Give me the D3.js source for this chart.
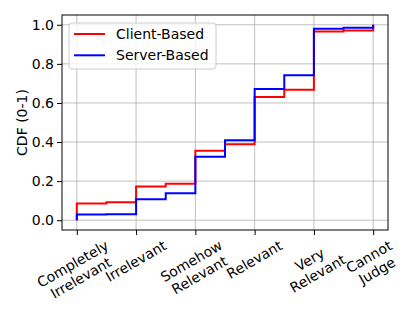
<!DOCTYPE html>
<html>
<head>
<meta charset="utf-8">
<script src="https://cdn.jsdelivr.net/npm/d3@7"></script>
<style>
  body { margin: 0; background: #fff; }
  text { font-family: "DejaVu Sans", sans-serif; }
</style>
</head>
<body>
<div id="chart"></div>
<script>
// category labels sit at 0..5, the CDF is sampled every half step
const categories = ["Completely\nIrrelevant", "Irrelevant", "Somehow\nRelevant", "Relevant", "Very\nRelevant", "Cannot\nJudge"];
const steps = [0, 0, 0.5, 1, 1.5, 2, 2.5, 3, 3.5, 4, 4.5, 5];
const clientBased = [0, 0.085, 0.092, 0.172, 0.187, 0.356, 0.389, 0.631, 0.667, 0.966, 0.971, 1.0];
const serverBased = [0, 0.029, 0.031, 0.107, 0.138, 0.325, 0.409, 0.672, 0.742, 0.980, 0.985, 1.0];
const yTicks = [0, 0.2, 0.4, 0.6, 0.8, 1.0];

const width = 415;
const height = 311;
const marginTop = 15;
const marginRight = 27;
const marginBottom = 81;
const marginLeft = 62;
const fontSize = 14;

const series = [
  { name: "Client-Based", color: "#ff0000", values: clientBased },
  { name: "Server-Based", color: "#0000ff", values: serverBased }
];

const x = d3.scaleLinear()
  .domain([-0.25, 5.25])
  .range([marginLeft, width - marginRight]);

const y = d3.scaleLinear()
  .domain([-0.05, 1.05])
  .range([height - marginBottom, marginTop]);

const svg = d3.select("#chart")
  .append("svg")
  .attr("width", width)
  .attr("height", height);

// grid
svg.append("g")
  .selectAll("line")
  .data(categories.map((_, i) => i))
  .join("line")
  .attr("x1", d => x(d)).attr("x2", d => x(d))
  .attr("y1", marginTop).attr("y2", height - marginBottom)
  .attr("stroke", "#b0b0b0").attr("stroke-width", 0.8);

svg.append("g")
  .selectAll("line")
  .data(yTicks)
  .join("line")
  .attr("x1", marginLeft).attr("x2", width - marginRight)
  .attr("y1", d => y(d)).attr("y2", d => y(d))
  .attr("stroke", "#b0b0b0").attr("stroke-width", 0.8);

// step lines
const line = d3.line()
  .x((d, i) => x(steps[i]))
  .y(d => y(d))
  .curve(d3.curveStepAfter);

svg.append("g")
  .selectAll("path")
  .data(series)
  .join("path")
  .attr("d", d => line(d.values))
  .attr("fill", "none")
  .attr("stroke", d => d.color)
  .attr("stroke-width", 2);

// frame
svg.append("rect")
  .attr("x", marginLeft).attr("y", marginTop)
  .attr("width", width - marginLeft - marginRight)
  .attr("height", height - marginTop - marginBottom)
  .attr("fill", "none").attr("stroke", "#000").attr("stroke-width", 1);

// y axis
const gy = svg.append("g")
  .attr("transform", `translate(${marginLeft},0)`)
  .call(d3.axisLeft(y).tickValues(yTicks).tickFormat(d3.format(".1f")).tickSize(5).tickPadding(3));
gy.select(".domain").remove();
gy.selectAll("text").attr("font-size", fontSize).attr("fill", "#000").attr("font-family", "DejaVu Sans");

// x axis ticks (labels drawn separately, rotated)
const gx = svg.append("g")
  .attr("transform", `translate(0,${height - marginBottom})`)
  .call(d3.axisBottom(x).tickValues(categories.map((_, i) => i)).tickSize(5).tickFormat(""));
gx.select(".domain").remove();

const labelTop = height - marginBottom + 7;
categories.forEach((c, i) => {
  const outer = svg.append("g");
  const t = outer.append("g")
    .attr("transform", "rotate(-30)")
    .append("text")
    .attr("text-anchor", "middle")
    .attr("font-size", fontSize)
    .attr("fill", "#000");
  c.split("\n").forEach((s, k) => {
    t.append("tspan").attr("x", 0).attr("dy", k === 0 ? 0 : "1.15em").text(s);
  });
  const bb = outer.node().getBBox();
  outer.attr("transform", `translate(${x(i) - (bb.x + bb.width / 2)},${labelTop - bb.y})`);
});

// y label
svg.append("text")
  .attr("transform", `translate(27,${(marginTop + height - marginBottom) / 2}) rotate(-90)`)
  .attr("text-anchor", "middle")
  .attr("font-size", fontSize)
  .attr("fill", "#000")
  .text("CDF (0-1)");

// legend
const legend = svg.append("g").attr("transform", `translate(${marginLeft + 7},${marginTop + 8})`);
legend.append("rect")
  .attr("width", 147).attr("height", 46)
  .attr("rx", 3)
  .attr("fill", "#fff").attr("fill-opacity", 0.8)
  .attr("stroke", "#cccccc").attr("stroke-width", 1);
const items = legend.selectAll("g.item")
  .data(series)
  .join("g")
  .attr("class", "item")
  .attr("transform", (d, i) => `translate(5,${11 + i * 21.3})`);
items.append("line")
  .attr("x1", 0).attr("x2", 31)
  .attr("stroke", d => d.color).attr("stroke-width", 2);
items.append("text")
  .attr("x", 42).attr("dy", "0.36em")
  .attr("font-size", fontSize)
  .attr("fill", "#000")
  .text(d => d.name);
</script>
</body>
</html>
